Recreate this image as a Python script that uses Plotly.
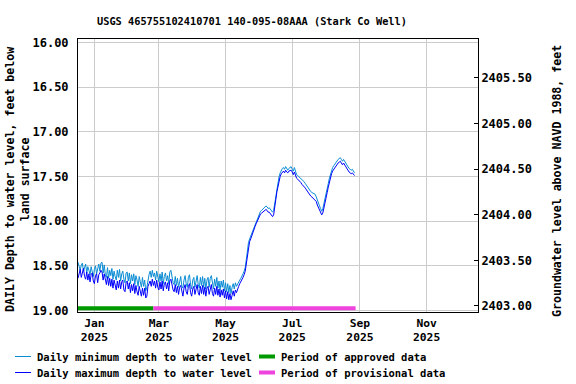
import pandas as pd
import plotly.graph_objects as go

TITLE = "USGS 465755102410701 140-095-08AAA (Stark Co Well)"
START_DATE = "2024-12-17"

# Daily minimum depth to water level (feet below land surface), one per day from START_DATE
min_depth = [
    18.46, 18.50, 18.55, 18.49, 18.47, 18.56, 18.52, 18.48, 18.58, 18.51,
    18.55, 18.60, 18.51, 18.57, 18.62, 18.54, 18.50, 18.59, 18.53, 18.48,
    18.56, 18.47, 18.46, 18.58, 18.49, 18.60, 18.63, 18.52, 18.64, 18.55,
    18.61, 18.53, 18.65, 18.56, 18.62, 18.66, 18.55, 18.63, 18.54, 18.67,
    18.59, 18.56, 18.65, 18.69, 18.58, 18.57, 18.67, 18.58, 18.70, 18.60,
    18.67, 18.59, 18.71, 18.61, 18.66, 18.73, 18.62, 18.70, 18.74, 18.63,
    18.73, 18.66, 18.78, 18.74, 18.64, 18.60, 18.56, 18.63, 18.55, 18.62,
    18.58, 18.66, 18.56, 18.64, 18.68, 18.59, 18.67, 18.57, 18.70, 18.62,
    18.58, 18.67, 18.61, 18.70, 18.57, 18.55, 18.64, 18.69, 18.71, 18.62,
    18.72, 18.64, 18.74, 18.65, 18.62, 18.73, 18.75, 18.66, 18.61, 18.70,
    18.74, 18.63, 18.60, 18.71, 18.76, 18.66, 18.63, 18.74, 18.65, 18.61,
    18.71, 18.75, 18.63, 18.72, 18.62, 18.74, 18.64, 18.76, 18.66, 18.63,
    18.74, 18.64, 18.61, 18.72, 18.76, 18.65, 18.73, 18.63, 18.75, 18.67,
    18.77, 18.67, 18.74, 18.66, 18.78, 18.69, 18.79, 18.70, 18.80, 18.72,
    18.81, 18.74, 18.70, 18.76, 18.69, 18.73, 18.70, 18.68, 18.66, 18.64,
    18.62, 18.59, 18.56, 18.52, 18.43, 18.33, 18.24, 18.20, 18.17, 18.13,
    18.09, 18.06, 18.03, 18.00, 17.97, 17.94, 17.91, 17.89, 17.88, 17.87,
    17.86, 17.85, 17.83, 17.84, 17.86, 17.85, 17.87, 17.89, 17.90, 17.88,
    17.80, 17.70, 17.62, 17.56, 17.50, 17.46, 17.43, 17.41, 17.40, 17.42,
    17.39, 17.41, 17.43, 17.41, 17.40, 17.39, 17.42, 17.44, 17.40, 17.45,
    17.48, 17.49, 17.50, 17.51, 17.52, 17.54, 17.55, 17.56, 17.58, 17.60,
    17.62, 17.64, 17.66, 17.67, 17.68, 17.69, 17.69, 17.70, 17.73, 17.77,
    17.80, 17.83, 17.86, 17.89, 17.86, 17.81, 17.76, 17.70, 17.64, 17.58,
    17.52, 17.47, 17.43, 17.40, 17.38, 17.36, 17.35, 17.33, 17.31, 17.30,
    17.29, 17.31, 17.33, 17.31, 17.33, 17.36, 17.38, 17.40, 17.41, 17.42,
    17.43, 17.42, 17.44, 17.46,
]

# Daily maximum depth to water level (feet below land surface)
max_depth = [
    18.64, 18.57, 18.54, 18.63, 18.56, 18.53, 18.62, 18.65, 18.57, 18.66,
    18.59, 18.68, 18.60, 18.58, 18.67, 18.70, 18.61, 18.59, 18.69, 18.60,
    18.58, 18.55, 18.57, 18.66, 18.59, 18.68, 18.71, 18.62, 18.72, 18.64,
    18.73, 18.65, 18.75, 18.66, 18.74, 18.77, 18.67, 18.75, 18.66, 18.76,
    18.68, 18.66, 18.77, 18.79, 18.69, 18.67, 18.76, 18.69, 18.80, 18.71,
    18.78, 18.70, 18.81, 18.72, 18.79, 18.83, 18.73, 18.81, 18.84, 18.75,
    18.83, 18.75, 18.86, 18.84, 18.73, 18.70, 18.67, 18.73, 18.65, 18.72,
    18.67, 18.75, 18.66, 18.74, 18.77, 18.68, 18.76, 18.67, 18.78, 18.70,
    18.68, 18.76, 18.69, 18.78, 18.67, 18.65, 18.74, 18.77, 18.79, 18.71,
    18.80, 18.73, 18.82, 18.74, 18.72, 18.81, 18.84, 18.75, 18.71, 18.79,
    18.82, 18.73, 18.70, 18.80, 18.84, 18.76, 18.73, 18.82, 18.74, 18.71,
    18.80, 18.83, 18.73, 18.81, 18.72, 18.82, 18.74, 18.84, 18.75, 18.73,
    18.82, 18.74, 18.71, 18.81, 18.84, 18.75, 18.82, 18.73, 18.83, 18.76,
    18.85, 18.77, 18.83, 18.76, 18.86, 18.78, 18.87, 18.79, 18.88, 18.81,
    18.88, 18.83, 18.78, 18.84, 18.77, 18.80, 18.75, 18.73, 18.70, 18.68,
    18.66, 18.63, 18.60, 18.56, 18.48, 18.38, 18.28, 18.23, 18.20, 18.16,
    18.12, 18.09, 18.06, 18.03, 18.00, 17.97, 17.94, 17.92, 17.91, 17.90,
    17.89, 17.88, 17.87, 17.88, 17.90, 17.90, 17.92, 17.94, 17.95, 17.93,
    17.86, 17.76, 17.67, 17.60, 17.54, 17.50, 17.47, 17.45, 17.44, 17.46,
    17.43, 17.45, 17.46, 17.44, 17.43, 17.43, 17.45, 17.48, 17.45, 17.49,
    17.52, 17.53, 17.54, 17.55, 17.57, 17.59, 17.60, 17.61, 17.63, 17.65,
    17.67, 17.69, 17.71, 17.72, 17.73, 17.74, 17.75, 17.76, 17.78, 17.82,
    17.85, 17.88, 17.91, 17.93, 17.91, 17.86, 17.80, 17.74, 17.68, 17.62,
    17.56, 17.51, 17.47, 17.44, 17.42, 17.40, 17.39, 17.37, 17.35, 17.34,
    17.33, 17.35, 17.37, 17.35, 17.37, 17.40, 17.42, 17.44, 17.45, 17.46,
    17.47, 17.46, 17.48, 17.49,
]

# Approval periods
approved_period = ["2024-12-17", "2025-02-24"]
provisional_period = ["2025-02-24", "2025-08-28"]
period_bar_depth = 18.975

# Axis ticks
x_tick_dates = ["2025-01-01", "2025-03-01", "2025-05-01", "2025-07-01", "2025-09-01", "2025-11-01"]
x_tick_labels = ["Jan<br>2025", "Mar<br>2025", "May<br>2025", "Jul<br>2025", "Sep<br>2025", "Nov<br>2025"]
y_ticks = [16.0, 16.5, 17.0, 17.5, 18.0, 18.5, 19.0]
y2_ticks = [2403.0, 2403.5, 2404.0, 2404.5, 2405.0, 2405.5]

legend_labels = [
    "Daily minimum depth to water level",
    "Daily maximum depth to water level",
    "Period of approved data",
    "Period of provisional data",
]

COL_MIN = "#0a8cd4"
COL_MAX = "#0000ff"
COL_APP = "#009900"
COL_PROV = "#ee44dd"
FONT = "DejaVu Sans Mono"

dates = pd.date_range(START_DATE, periods=len(min_depth), freq="D")

fig = go.Figure()
fig.add_trace(go.Scatter(x=dates, y=min_depth, mode="lines",
                         line=dict(color=COL_MIN, width=1), showlegend=False))
fig.add_trace(go.Scatter(x=dates, y=max_depth, mode="lines",
                         line=dict(color=COL_MAX, width=1), showlegend=False))
fig.add_trace(go.Scatter(x=approved_period, y=[period_bar_depth] * 2, mode="lines",
                         line=dict(color=COL_APP, width=4), showlegend=False))
fig.add_trace(go.Scatter(x=provisional_period, y=[period_bar_depth] * 2, mode="lines",
                         line=dict(color=COL_PROV, width=4), showlegend=False))
# invisible trace to activate right axis
fig.add_trace(go.Scatter(x=[dates[0]], y=[y2_ticks[0]], yaxis="y2", mode="markers",
                         marker=dict(opacity=0), showlegend=False, hoverinfo="skip"))

L, R, T, B = 78, 98, 39, 72
W, H = 576, 384
PW, PH = W - L - R, H - T - B


def px(xp):
    return (xp - L) / PW


def py(yp):
    return (H - B - yp) / PH


annotations = [
    dict(text=TITLE, xref="paper", yref="paper", x=px(251.5), y=py(20.5),
         xanchor="center", yanchor="middle", showarrow=False,
         font=dict(family=FONT, size=10.3, color="black", weight="bold")),
    dict(text="DAILY Depth to water level, feet below<br>land surface",
         xref="paper", yref="paper", x=px(18), y=py(180), textangle=-90,
         xanchor="center", yanchor="middle", showarrow=False,
         font=dict(family=FONT, size=11.6, color="black", weight="bold")),
    dict(text="Groundwater level above NAVD 1988, feet",
         xref="paper", yref="paper", x=px(557), y=py(181), textangle=-90,
         xanchor="center", yanchor="middle", showarrow=False,
         font=dict(family=FONT, size=11.6, color="black", weight="bold")),
]
shapes = []
legend_items = [
    (legend_labels[0], COL_MIN, 1, 15, 356.5),
    (legend_labels[1], COL_MAX, 1, 15, 372.5),
    (legend_labels[2], COL_APP, 4, 259, 356.5),
    (legend_labels[3], COL_PROV, 4, 259, 372.5),
]
for label, col, wdt, x0, yy in legend_items:
    shapes.append(dict(type="line", xref="paper", yref="paper",
                       x0=px(x0), x1=px(x0 + 16), y0=py(yy), y1=py(yy),
                       line=dict(color=col, width=wdt)))
    annotations.append(dict(text=label, xref="paper", yref="paper",
                            x=px(x0 + 20), y=py(yy), xanchor="left", yanchor="middle",
                            showarrow=False,
                            font=dict(family=FONT, size=10.5, color="black", weight="bold")))

fig.update_layout(
    width=W, height=H,
    margin=dict(l=L, r=R, t=T, b=B, autoexpand=False),
    paper_bgcolor="white", plot_bgcolor="white",
    showlegend=False,
    font=dict(family=FONT, color="black"),
    xaxis=dict(
        type="date", range=["2024-12-17", "2025-12-18"],
        tickvals=x_tick_dates, ticktext=x_tick_labels,
        showgrid=True, gridcolor="#cccccc", gridwidth=1,
        showline=True, linecolor="black", linewidth=1, mirror=True,
        ticks="", zeroline=False,
        tickfont=dict(family=FONT, size=11.3, color="black", weight="bold"),
    ),
    yaxis=dict(
        range=[19.017, 15.962], tickvals=y_ticks, tickformat=".2f",
        showgrid=True, gridcolor="#cccccc", gridwidth=1,
        showline=True, linecolor="black", linewidth=1, mirror=True,
        ticks="", zeroline=False, ticklabelstandoff=6,
        tickfont=dict(family=FONT, size=12, color="black", weight="bold"),
    ),
    yaxis2=dict(
        overlaying="y", side="right", range=[2402.934, 2405.924],
        tickvals=y2_ticks, tickformat=".2f", showgrid=False,
        showline=True, linecolor="black", linewidth=1,
        ticks="inside", ticklen=4, tickcolor="black", zeroline=False,
        tickfont=dict(family=FONT, size=12, color="black", weight="bold"),
    ),
    annotations=annotations,
    shapes=shapes,
)

fig.write_html(
    "out.html",
    config={"displayModeBar": False},
    post_script="document.body.style.margin='0';document.body.style.padding='0';"
                "document.body.style.overflow='hidden';",
)
